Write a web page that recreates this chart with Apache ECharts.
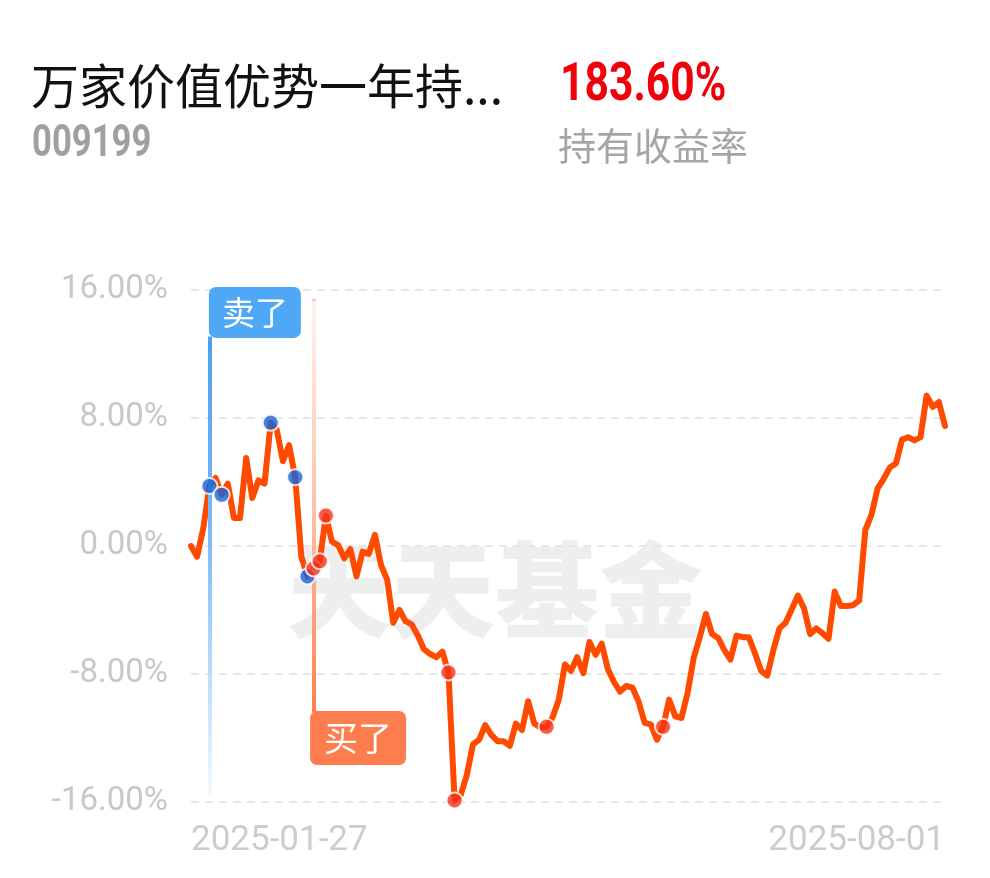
<!DOCTYPE html>
<html><head><meta charset="utf-8">
<script src="https://cdn.jsdelivr.net/npm/echarts@6/dist/echarts.min.js"></script>
<style>html,body{margin:0;padding:0;background:#fff}#c{width:990px;height:878px}</style>
</head><body><div id="c"></div>
<script>
const fundName = '万家价值优势一年持...';
const fundCode = '009199';
const holdReturn = '183.60%';
const holdReturnLabel = '持有收益率';
const watermark = '天天基金';
const sellText = '卖了';
const buyText = '买了';

const dates = [
'2025-01-27',
'2025-02-05','2025-02-06','2025-02-07','2025-02-10','2025-02-11','2025-02-12','2025-02-13','2025-02-14','2025-02-17','2025-02-18','2025-02-19','2025-02-20','2025-02-21','2025-02-24','2025-02-25','2025-02-26','2025-02-27','2025-02-28',
'2025-03-03','2025-03-04','2025-03-05','2025-03-06','2025-03-07','2025-03-10','2025-03-11','2025-03-12','2025-03-13','2025-03-14','2025-03-17','2025-03-18','2025-03-19','2025-03-20','2025-03-21','2025-03-24','2025-03-25','2025-03-26','2025-03-27','2025-03-28','2025-03-31',
'2025-04-01','2025-04-02','2025-04-03','2025-04-07','2025-04-08','2025-04-09','2025-04-10','2025-04-11','2025-04-14','2025-04-15','2025-04-16','2025-04-17','2025-04-18','2025-04-21','2025-04-22','2025-04-23','2025-04-24','2025-04-25','2025-04-28','2025-04-29','2025-04-30',
'2025-05-06','2025-05-07','2025-05-08','2025-05-09','2025-05-12','2025-05-13','2025-05-14','2025-05-15','2025-05-16','2025-05-19','2025-05-20','2025-05-21','2025-05-22','2025-05-23','2025-05-26','2025-05-27','2025-05-28','2025-05-29','2025-05-30',
'2025-06-03','2025-06-04','2025-06-05','2025-06-06','2025-06-09','2025-06-10','2025-06-11','2025-06-12','2025-06-13','2025-06-16','2025-06-17','2025-06-18','2025-06-19','2025-06-20','2025-06-23','2025-06-24','2025-06-25','2025-06-26','2025-06-27','2025-06-30',
'2025-07-01','2025-07-02','2025-07-03','2025-07-04','2025-07-07','2025-07-08','2025-07-09','2025-07-10','2025-07-11','2025-07-14','2025-07-15','2025-07-16','2025-07-17','2025-07-18','2025-07-21','2025-07-22','2025-07-23','2025-07-24','2025-07-25','2025-07-28','2025-07-29','2025-07-30','2025-07-31',
'2025-08-01'
];

const values = [
0.00,-0.67,1.10,3.75,4.25,3.20,3.90,1.75,1.75,5.50,
3.00,4.10,3.90,7.70,7.25,5.30,6.30,4.30,-0.67,-1.90,
-1.40,-0.95,1.90,0.27,0.06,-0.77,-0.20,-1.90,-0.35,-0.50,
0.70,-1.20,-2.10,-4.80,-4.00,-4.70,-4.90,-5.60,-6.45,-6.75,
-6.95,-6.60,-7.90,-15.90,-15.56,-14.30,-12.40,-12.10,-11.20,-11.80,
-12.20,-12.20,-12.50,-11.10,-11.50,-9.70,-11.10,-11.35,-11.30,-10.70,
-9.60,-7.40,-7.80,-6.95,-7.95,-6.00,-6.80,-6.10,-7.70,-8.50,
-9.10,-8.75,-8.85,-9.70,-11.05,-11.15,-12.10,-11.30,-9.60,-10.65,
-10.75,-9.20,-7.00,-5.70,-4.25,-5.50,-5.75,-6.50,-7.10,-5.60,
-5.70,-5.70,-6.70,-7.80,-8.10,-6.50,-5.15,-4.80,-3.95,-3.10,
-3.90,-5.50,-5.15,-5.45,-5.80,-2.85,-3.75,-3.75,-3.70,-3.40,
1.00,1.94,3.60,4.20,4.90,5.15,6.65,6.80,6.60,6.80,
9.40,8.70,9.00,7.50
];

const sellIdx = [3,5,13,17,19];
const buyIdx = [20,21,22,42,43,58,77];

const chart = echarts.init(document.getElementById('c'), null, {renderer:'canvas'});
const LG = echarts.graphic.LinearGradient;

const sellDate = dates[sellIdx[0]];
const buyDate = dates[buyIdx[0]];

const option = {
  animation: false,
  backgroundColor: '#fff',
  grid: {left: 191, right: 45, top: 290, bottom: 76},
  graphic: [
    {type:'text', x:31, y:86, style:{text:fundName, fontSize:48, fontFamily:'Noto Sans CJK SC', fill:'#111', verticalAlign:'middle'}},
    {type:'text', x:560, y:86, scaleX:0.79, style:{text:holdReturn, fontSize:54, fontWeight:'bold', fontFamily:'Roboto', fill:'#f0000a', verticalAlign:'middle'}},
    {type:'text', x:32, y:145, scaleX:0.77, style:{text:fundCode, fontSize:45, fontWeight:'bold', fontFamily:'Roboto', fill:'#a0a0a0', verticalAlign:'middle'}},
    {type:'text', x:558, y:146, style:{text:holdReturnLabel, fontSize:38, fontFamily:'Noto Sans CJK SC', fill:'#a5a5a5', verticalAlign:'middle'}},
    {type:'text', x:495, y:590, z:-1, style:{text:watermark, fontSize:104, fontWeight:900, fontFamily:'Noto Sans CJK SC', fill:'#eeeeee', align:'center', verticalAlign:'middle'}}
  ],
  xAxis: {
    type:'category', data:dates, boundaryGap:false,
    axisLine:{show:false}, axisTick:{show:false}, splitLine:{show:false},
    axisLabel:{
      interval:function(i){return i===0 || i===dates.length-1;},
      showMinLabel:true, showMaxLabel:true,
      alignMinLabel:'left', alignMaxLabel:'right',
      color:'#cccccc', fontSize:35, fontFamily:'Roboto', margin:22
    }
  },
  yAxis: {
    type:'value', min:-16, max:16, interval:8,
    axisLine:{show:false}, axisTick:{show:false},
    splitLine:{lineStyle:{color:'#e6e6e6', width:2, type:[8,6]}},
    axisLabel:{formatter:function(v){return v.toFixed(2)+'%';}, color:'#c8c8c8', fontSize:33, fontFamily:'Roboto', margin:23}
  },
  series: [
    {
      type:'line', data:values, symbol:'none', z:3,
      lineStyle:{color:'#ff4b00', width:6, cap:'round', join:'round'},
      markLine:{
        silent:true, symbol:['none','none'], label:{show:false}, animation:false,
        data:[
          [{coord:[sellDate, 13.1], lineStyle:{width:4, type:'solid', color:new LG(0,0,0,1,[{offset:0,color:'#4a9ef0'},{offset:0.45,color:'#80bcf5'},{offset:1,color:'#f4f9ff'}])}},
           {coord:[sellDate, -15.6]}],
          [{coord:[buyDate, 15.45], lineStyle:{width:4, type:'solid', color:new LG(0,0,0,1,[{offset:0,color:'#ff8a60'},{offset:0.015,color:'#fff3ee'},{offset:0.5,color:'#fcc2ad'},{offset:1,color:'#ff7f4f'}])}},
           {coord:[buyDate, -10.4]}]
        ]
      },
      markPoint:{
        silent:true, symbol:'rect', symbolSize:1, itemStyle:{color:'rgba(0,0,0,0)'},
        label:{show:true, position:'right', distance:0, color:'#fff', fontSize:33, fontFamily:'Noto Sans CJK SC', lineHeight:33, padding:[9,13], borderRadius:7},
        data:[
          {coord:[sellDate, 14.6], label:{formatter:sellText, backgroundColor:'#4fa8f6', offset:[-1,0]}},
          {coord:[buyDate, -12.0], label:{formatter:buyText, backgroundColor:'#fe7d4f', offset:[-4,0], fontSize:34, lineHeight:34, padding:[10,14]}}
        ]
      }
    },
    {
      type:'scatter', z:5, symbolSize:16,
      data: sellIdx.map(function(i){return [dates[i], values[i]];}),
      itemStyle:{color:'#1563d6', borderColor:'#fff', borderWidth:2}
    },
    {
      type:'scatter', z:5, symbolSize:16,
      data: buyIdx.map(function(i){return [dates[i], values[i]];}),
      itemStyle:{color:'#f2321a', borderColor:'#fff', borderWidth:2}
    }
  ]
};
chart.setOption(option);
</script>
</body></html>
